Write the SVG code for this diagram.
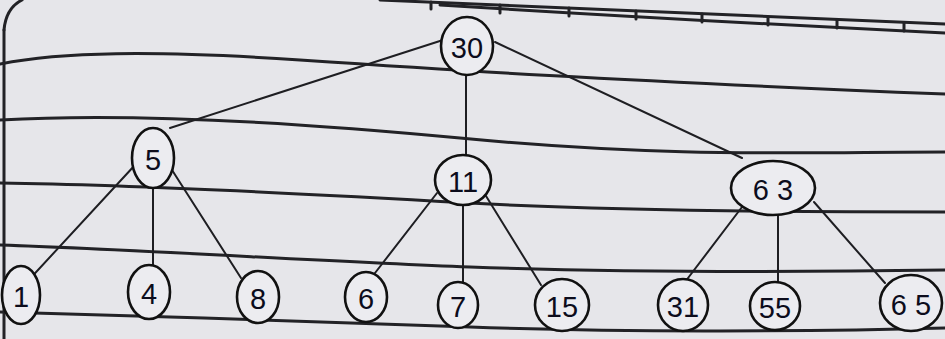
<svg xmlns="http://www.w3.org/2000/svg" width="945" height="339" viewBox="0 0 945 339">
<style>
.paper{fill:none;stroke:#222226;stroke-width:3;stroke-linecap:round}
.edge{fill:none;stroke:#1e1e22;stroke-width:2;stroke-linecap:round}
.node ellipse{fill:#ececf0;stroke:#111;stroke-width:2.6}
.node text{font-family:"Liberation Sans","DejaVu Sans",sans-serif;font-size:29px;fill:#0c0c1c;text-anchor:middle;dominant-baseline:central}
</style>
<rect width="945" height="339" fill="#e6e6ea"/>
<g id="paper">
<path class="paper" d="M380,0 Q650,12 945,24"/>
<path class="paper" d="M440,5 Q700,21 945,33"/>
<path class="paper" stroke-width="1.8" d="M431,2v7M500,5v8M569,8v8M636,11v8M702,14v8M768,17v8M837,20v8M904,23v8"/>
<path class="paper" d="M0,64 C60,52 150,50 300,60 S600,80 945,94"/>
<path class="paper" d="M0,120 C100,114 250,118 460,138 S800,152 945,152"/>
<path class="paper" d="M0,183 C150,185 330,195 470,203 S800,212 945,212"/>
<path class="paper" d="M0,245 C150,250 330,262 470,267 S800,272 945,270"/>
<path class="paper" d="M0,312 C150,316 330,322 470,327 S800,332 945,328"/>
<path class="paper" stroke-width="4" d="M4,30 L4,339"/>
<path class="paper" stroke-width="4" d="M4,30 Q6,8 22,0"/>
</g>
<g id="connectors">
<line class="edge" x1="443" y1="40" x2="170" y2="128"/>
<line class="edge" x1="466" y1="75" x2="466" y2="155"/>
<line class="edge" x1="495" y1="42" x2="742" y2="158"/>
<line class="edge" x1="135" y1="165" x2="26" y2="283"/>
<line class="edge" x1="153" y1="188" x2="153" y2="265"/>
<line class="edge" x1="172" y1="170" x2="241" y2="278"/>
<line class="edge" x1="437" y1="193" x2="375" y2="273"/>
<line class="edge" x1="463" y1="205" x2="463" y2="282"/>
<line class="edge" x1="486" y1="196" x2="541" y2="285"/>
<line class="edge" x1="742" y1="207" x2="685" y2="282"/>
<line class="edge" x1="778" y1="215" x2="778" y2="285"/>
<line class="edge" x1="814" y1="202" x2="885" y2="283"/>
</g>
<g id="n30" class="node"><ellipse cx="467" cy="46" rx="26" ry="29"/><text x="467" y="48">30</text></g>
<g id="n5" class="node"><ellipse cx="153" cy="158" rx="21" ry="30"/><text x="153" y="160">5</text></g>
<g id="n11" class="node"><ellipse cx="463" cy="180" rx="28" ry="25"/><text x="463" y="182">11</text></g>
<g id="n63" class="node"><ellipse cx="773" cy="188" rx="42" ry="27"/><text x="773" y="190">6 3</text></g>
<g id="n1" class="node"><ellipse cx="21" cy="295" rx="19" ry="29"/><text x="21" y="297">1</text></g>
<g id="n4" class="node"><ellipse cx="149" cy="292" rx="21" ry="27"/><text x="149" y="294">4</text></g>
<g id="n8" class="node"><ellipse cx="258" cy="297" rx="21" ry="26"/><text x="258" y="299">8</text></g>
<g id="n6" class="node"><ellipse cx="366" cy="297" rx="21" ry="25"/><text x="366" y="299">6</text></g>
<g id="n7" class="node"><ellipse cx="458" cy="305" rx="20" ry="23"/><text x="458" y="307">7</text></g>
<g id="n15" class="node"><ellipse cx="562" cy="305" rx="27" ry="26"/><text x="562" y="307">15</text></g>
<g id="n31" class="node"><ellipse cx="683" cy="305" rx="25" ry="26"/><text x="683" y="307">31</text></g>
<g id="n55" class="node"><ellipse cx="775" cy="306" rx="25" ry="24"/><text x="775" y="308">55</text></g>
<g id="n65" class="node"><ellipse cx="911" cy="303" rx="31" ry="28"/><text x="911" y="305">6 5</text></g>
</svg>
